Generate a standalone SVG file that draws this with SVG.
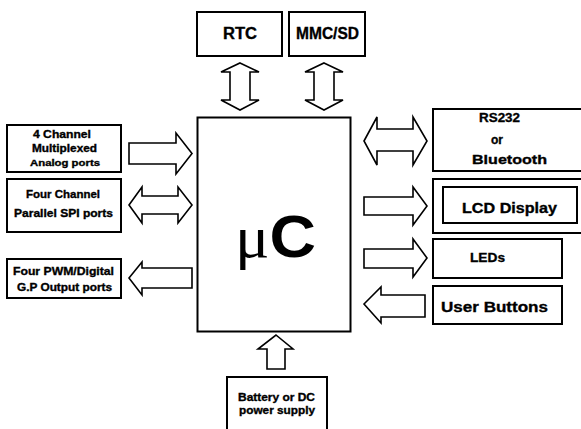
<svg xmlns="http://www.w3.org/2000/svg" width="581" height="429" viewBox="0 0 581 429">
<style>
.box{fill:#fff;stroke:#000;stroke-width:2}
.arr{fill:#fff;stroke:#000;stroke-width:1.6;stroke-linejoin:miter}
text{font-family:"Liberation Sans",Arial,sans-serif;font-weight:bold;fill:#000;stroke:#000;stroke-width:0.35}
text.big{stroke:none}
</style>
<rect width="581" height="429" fill="#fff"/>
<g id="uc">
<rect class="box" x="197.5" y="117.5" width="153" height="214"/>
<text class="big" x="235" y="257" font-size="60" textLength="81" lengthAdjust="spacingAndGlyphs"><tspan font-weight="normal" font-family="Liberation Serif, serif">μ</tspan>C</text>
</g>
<g id="rtc">
<rect class="box" x="197" y="12" width="85" height="44"/>
<text x="223" y="39" font-size="16" textLength="34" lengthAdjust="spacingAndGlyphs">RTC</text>
</g>
<g id="mmc">
<rect class="box" x="289" y="12" width="76" height="44"/>
<text x="296" y="39" font-size="16" textLength="63" lengthAdjust="spacingAndGlyphs">MMC/SD</text>
</g>
<g id="analog">
<rect class="box" x="7" y="125" width="114" height="47"/>
<text x="33" y="138" font-size="11" textLength="58" lengthAdjust="spacingAndGlyphs">4 Channel</text>
<text x="32" y="152" font-size="10" textLength="65" lengthAdjust="spacingAndGlyphs">Multiplexed</text>
<text x="30" y="166" font-size="9.5" textLength="70" lengthAdjust="spacingAndGlyphs">Analog ports</text>
</g>
<g id="spi">
<rect class="box" x="7" y="179" width="114" height="53"/>
<text x="26" y="198" font-size="11" textLength="74" lengthAdjust="spacingAndGlyphs">Four Channel</text>
<text x="14" y="217" font-size="11" textLength="99" lengthAdjust="spacingAndGlyphs">Parallel SPI ports</text>
</g>
<g id="pwm">
<rect class="box" x="7" y="259" width="114" height="39"/>
<text x="13" y="275" font-size="11" textLength="101" lengthAdjust="spacingAndGlyphs">Four PWM/Digital</text>
<text x="17" y="291" font-size="10.5" textLength="95" lengthAdjust="spacingAndGlyphs">G.P Output ports</text>
</g>
<g id="rs232">
<rect class="box" x="433" y="109" width="152" height="62"/>
<text x="479" y="122" font-size="13" textLength="41" lengthAdjust="spacingAndGlyphs">RS232</text>
<text x="491" y="144" font-size="13" textLength="12" lengthAdjust="spacingAndGlyphs">or</text>
<text x="472" y="164" font-size="13" textLength="75" lengthAdjust="spacingAndGlyphs">Bluetooth</text>
</g>
<g id="lcd">
<rect class="box" x="433" y="179" width="152" height="54"/>
<rect class="box" x="443" y="187" width="134" height="36"/>
<text x="462" y="213" font-size="15" textLength="95" lengthAdjust="spacingAndGlyphs">LCD Display</text>
</g>
<g id="leds">
<rect class="box" x="433" y="239" width="129" height="39"/>
<text x="470" y="262" font-size="13" textLength="35" lengthAdjust="spacingAndGlyphs">LEDs</text>
</g>
<g id="buttons">
<rect class="box" x="433" y="286" width="129" height="38"/>
<text x="441" y="312" font-size="15" textLength="107" lengthAdjust="spacingAndGlyphs">User Buttons</text>
</g>
<g id="power">
<rect class="box" x="227" y="377" width="100" height="60"/>
<text x="238" y="401" font-size="11" textLength="77" lengthAdjust="spacingAndGlyphs">Battery or DC</text>
<text x="239" y="414" font-size="11" textLength="76" lengthAdjust="spacingAndGlyphs">power supply</text>
</g>
<g id="connectors">
<polygon class="arr" points="240,63 259,72 250,72 250,100 259,100 240,110 221,100 230,100 230,72 221,72"/>
<polygon class="arr" points="324,63 343,72 334,72 334,100 343,100 324,110 305,100 314,100 314,72 305,72"/>
<polygon class="arr" points="129,143 176,143 176,133 192,153.5 176,174 176,164 129,164"/>
<polygon class="arr" points="129,205 142,187 142,196 178,196 178,187 192,205 178,223 178,214 142,214 142,223"/>
<polygon class="arr" points="129,278 142,262 142,268 192,268 192,288 142,288 142,295"/>
<polygon class="arr" points="364,141 377,117 377,129 413,129 413,117 427,141 413,165 413,151 377,151 377,165"/>
<polygon class="arr" points="364,197 413,197 413,187 427,206 413,225 413,215 364,215"/>
<polygon class="arr" points="364,249 413,249 413,239 427,258 413,277 413,268 364,268"/>
<polygon class="arr" points="364,304 381,287 381,295 425,295 425,317 381,317 381,323"/>
<polygon class="arr" points="276,335 293,349 285,349 285,369 267,369 267,349 258,349"/>
</g>
</svg>
